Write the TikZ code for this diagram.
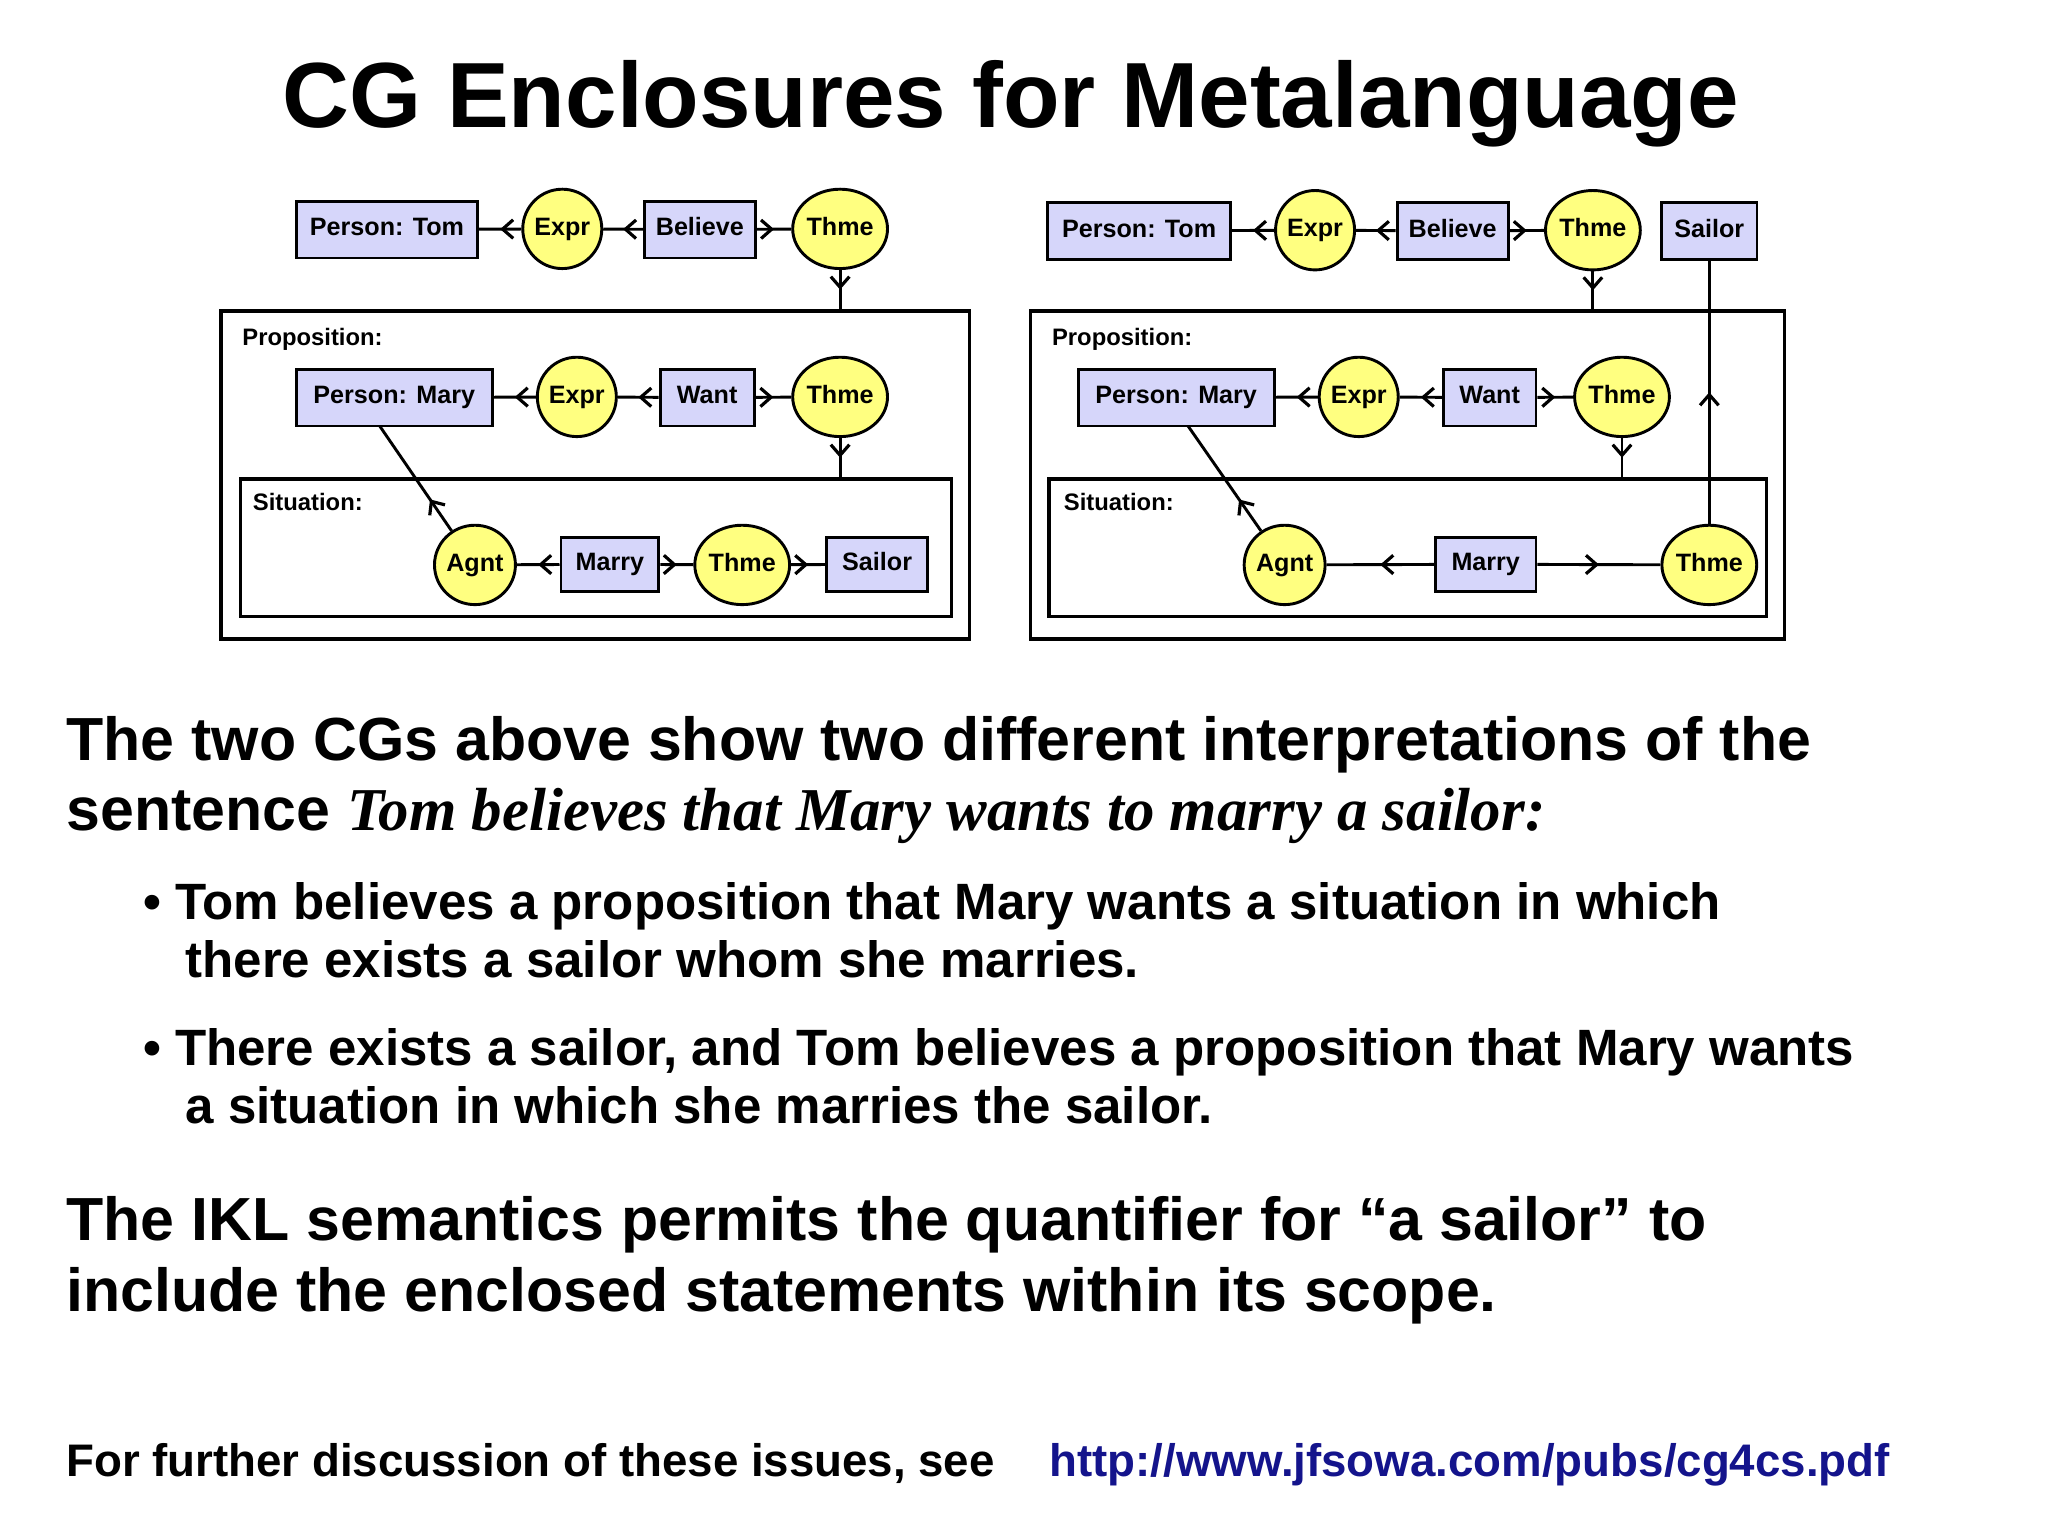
\documentclass[tikz,border=0pt]{standalone}
\usepackage{fontspec}
\setmainfont{Liberation Sans}
\newfontfamily\serifbi{Liberation Serif}
\usetikzlibrary{shapes.geometric,arrows.meta,decorations.markings}
\definecolor{boxfill}{HTML}{D6D6FA}
\definecolor{relfill}{HTML}{FFFF80}
\definecolor{urlblue}{HTML}{14148C}
\begin{document}
\begin{tikzpicture}[x=1pt,y=-1pt,
  concept/.style={draw,line width=2.2pt,fill=boxfill,minimum height=43pt,inner sep=0pt,text height=13.5pt,text depth=4pt,font=\fontsize{19}{22}\selectfont\bfseries},
  rel/.style={draw,line width=2.2pt,fill=relfill,ellipse,minimum width=57pt,minimum height=60pt,inner sep=0pt,text height=13.5pt,text depth=4pt,font=\fontsize{19}{22}\selectfont\bfseries},
  cont/.style={draw,line width=2.5pt,inner sep=0pt},
  clabel/.style={anchor=base west,inner sep=0pt,font=\fontsize{18}{20}\selectfont\bfseries},
  arr/.style={line width=2.2pt,postaction={decorate},decoration={markings,mark=at position #1 with {\arrow{Straight Barb[length=8pt,width=14pt,line width=2.4pt]}}}},
  arr/.default=0.5,
  txt/.style={anchor=base west,inner sep=0pt,font=\fontsize{46}{52}\selectfont\bfseries},
  btxt/.style={anchor=base west,inner sep=0pt,font=\fontsize{38.6}{44}\selectfont\bfseries}]
\useasboundingbox (0,0) rectangle (1548,1160);
\node[anchor=base,inner sep=0pt,font=\fontsize{70}{80}\selectfont\bfseries] (title) at (764,96) {CG Enclosures for Metalanguage};
% left diagram
\node[cont,minimum width=566pt,minimum height=248pt] (propL) at (450,359) {};
\node[cont,minimum width=537pt,minimum height=104pt] (sitL) at (450.5,414) {};
\node[clabel] (plL) at (183,261) {Proposition:};
\node[clabel] (slL) at (191,386) {Situation:};
\node[concept,minimum width=137pt] (tomL) at (292.5,173.5) {Person: Tom};
\node[rel] (exprL) at (425,173) {Expr};
\node[concept,minimum width=84pt] (belL) at (529,173.5) {Believe};
\node[rel] (thmeL) at (635,173) {Thme};
\node[concept,minimum width=148pt] (maryL) at (298,300.5) {Person: Mary};
\node[rel] (expr2L) at (436,300) {Expr};
\node[concept,minimum width=71pt] (wantL) at (534.5,300.5) {Want};
\node[rel] (thme2L) at (635,300) {Thme};
\node[rel] (agntL) at (359,427) {Agnt};
\node[concept,minimum width=74pt,minimum height=41pt] (marryL) at (461,426.5) {Marry};
\node[rel] (thme3L) at (561,427) {Thme};
\node[concept,minimum width=76pt,minimum height=41pt] (sailorL) at (663,426.5) {Sailor};
\draw[arr] (exprL) -- (tomL);
\draw[arr] (belL) -- (exprL);
\draw[arr] (belL) -- (thmeL);
\draw[arr] (thmeL) -- (thmeL |- propL.north);
\draw[arr] (expr2L) -- (maryL);
\draw[arr] (wantL) -- (expr2L);
\draw[arr] (wantL) -- (thme2L);
\draw[arr] (thme2L) -- (thme2L |- sitL.north);
\draw[arr] (marryL) -- (agntL);
\draw[arr] (marryL) -- (thme3L);
\draw[arr] (thme3L) -- (sailorL);
\coordinate (mL) at (287,322);
\draw[arr=0.3] (agntL) -- (mL);
% right diagram
\node[cont,minimum width=570pt,minimum height=248pt] (propR) at (1064,359) {};
\node[cont,minimum width=542pt,minimum height=104pt] (sitR) at (1064,414) {};
\node[clabel] (plR) at (795,261) {Proposition:};
\node[clabel] (slR) at (804,386) {Situation:};
\node[concept,minimum width=138pt] (tomR) at (861,174.5) {Person: Tom};
\node[rel] (exprR) at (994,174) {Expr};
\node[concept,minimum width=84pt] (belR) at (1098,174.5) {Believe};
\node[rel] (thmeR) at (1204,174) {Thme};
\node[concept,minimum width=72pt] (sailorR) at (1292,174.5) {Sailor};
\node[concept,minimum width=148pt] (maryR) at (889,300.5) {Person: Mary};
\node[rel] (expr2R) at (1027,300) {Expr};
\node[concept,minimum width=70pt] (wantR) at (1126,300.5) {Want};
\node[rel] (thme2R) at (1226,300) {Thme};
\node[rel] (agntR) at (971,427) {Agnt};
\node[concept,minimum width=76pt,minimum height=41pt] (marryR) at (1123,426.5) {Marry};
\node[rel] (thme3R) at (1292,427) {Thme};
\draw[arr] (exprR) -- (tomR);
\draw[arr] (belR) -- (exprR);
\draw[arr] (belR) -- (thmeR);
\draw[arr] (thmeR) -- (thmeR |- propR.north);
\draw[arr] (expr2R) -- (maryR);
\draw[arr] (wantR) -- (expr2R);
\draw[arr] (wantR) -- (thme2R);
\draw[arr] (thme2R) -- (thme2R |- sitR.north);
\draw[arr] (marryR) -- (agntR);
\draw[arr] (marryR) -- (thme3R);
\draw[arr] (thme3R) -- (sailorR);
\coordinate (mR) at (898,322);
\draw[arr=0.3] (agntR) -- (mR);
% text
\node[txt] (t1) at (50,575) {The two CGs above show two different interpretations of the};
\node[txt] (t2) at (50,628) {sentence \serifbi\itshape Tom believes that Mary wants to marry a sailor:};
\node[btxt] (b1) at (108,695) {• Tom believes a proposition that Mary wants a situation in which};
\node[btxt] (b1b) at (140,739) {there exists a sailor whom she marries.};
\node[btxt] (b2) at (108,805) {• There exists a sailor, and Tom believes a proposition that Mary wants};
\node[btxt] (b2b) at (140,849) {a situation in which she marries the sailor.};
\node[txt] (t3) at (50,938) {The IKL semantics permits the quantifier for “a sailor” to};
\node[txt] (t4) at (50,991) {include the enclosed statements within its scope.};
\node[anchor=base west,inner sep=0pt,font=\fontsize{34.5}{38}\selectfont\bfseries] (f1) at (50,1116) {For further discussion of these issues, see};
\node[anchor=base west,inner sep=0pt,font=\fontsize{34.5}{38}\selectfont\bfseries,text=urlblue] (f2) at (793,1116) {http://www.jfsowa.com/pubs/cg4cs.pdf};
\end{tikzpicture}
\end{document}
